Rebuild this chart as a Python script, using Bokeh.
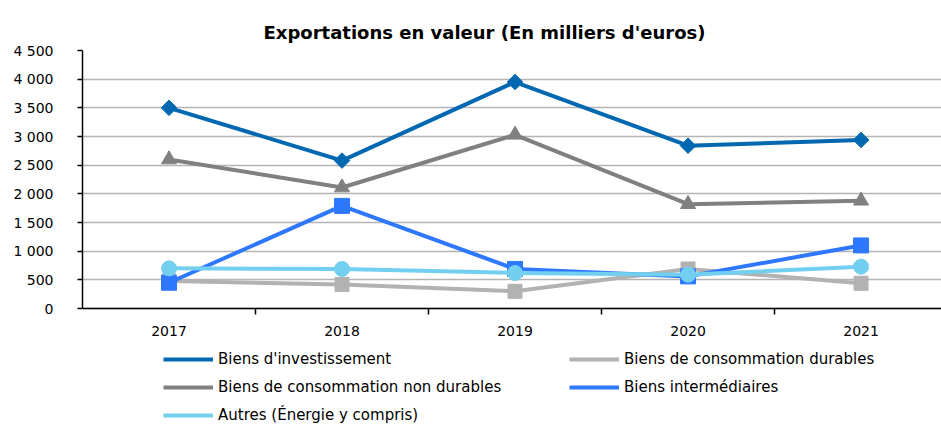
import math
from bokeh.plotting import figure
from bokeh.models import FixedTicker, Legend, LegendItem, Range1d
from bokeh.embed import file_html
from bokeh.resources import INLINE

years = ["2017", "2018", "2019", "2020", "2021"]
investissement = [3500, 2580, 3950, 2840, 2940]
conso_durables = [480, 420, 300, 690, 440]
conso_non_durables = [2600, 2110, 3030, 1820, 1880]
intermediaires = [450, 1790, 690, 560, 1100]
autres = [700, 690, 620, 590, 730]
y_ticks = [0, 500, 1000, 1500, 2000, 2500, 3000, 3500, 4000, 4500]
y_tick_labels = ["0", "500", "1 000", "1 500", "2 000", "2 500", "3 000", "3 500", "4 000", "4 500"]

xs = list(range(len(years)))
FONT = "DejaVu Sans"

# frame extends below the value axis so the legend can sit inside it
p = figure(width=941, height=426, output_backend="svg", toolbar_location=None,
           x_range=Range1d(-0.5, 4.465), y_range=Range1d(-2058, 4500),
           min_border_left=82, min_border_right=0, min_border_top=50, min_border_bottom=0)
p.outline_line_color = None
p.background_fill_color = "white"

p.title.text = "Exportations en valeur (En milliers d'euros)"
p.title.text_font = FONT
p.title.text_font_size = "18px"
p.title.text_font_style = "bold"
p.title.text_color = "black"
p.title.align = "left"
p.title.offset = 181
p.title.standoff = 16

# axes
p.xaxis.fixed_location = 0
p.xaxis.ticker = FixedTicker(ticks=xs, minor_ticks=[0.5, 1.5, 2.5, 3.5])
p.xaxis.major_label_overrides = {i: y for i, y in enumerate(years)}
p.xaxis.major_tick_out = 0
p.xaxis.major_tick_in = 0
p.xaxis.minor_tick_out = 6
p.xaxis.minor_tick_in = 0
p.xaxis.minor_tick_line_color = "black"
p.xaxis.minor_tick_line_width = 1.5
p.xaxis.axis_line_color = "black"
p.xaxis.axis_line_width = 1.5
p.xaxis.major_label_text_font = FONT
p.xaxis.major_label_text_font_size = "14px"
p.xaxis.major_label_text_color = "black"
p.xaxis.major_label_standoff = 11

p.yaxis.bounds = (0, 4500)
p.yaxis.ticker = FixedTicker(ticks=y_ticks)
p.yaxis.major_label_overrides = {t: l for t, l in zip(y_ticks, y_tick_labels)}
p.yaxis.major_tick_out = 5
p.yaxis.major_tick_in = 0
p.yaxis.minor_tick_line_color = None
p.yaxis.major_tick_line_color = "black"
p.yaxis.major_tick_line_width = 1.5
p.yaxis.axis_line_color = "black"
p.yaxis.axis_line_width = 1.5
p.yaxis.major_label_text_font = FONT
p.yaxis.major_label_text_font_size = "14px"
p.yaxis.major_label_text_color = "black"
p.yaxis.major_label_standoff = 24

p.xgrid.grid_line_color = None
p.ygrid.ticker = FixedTicker(ticks=y_ticks)
p.ygrid.grid_line_color = "#b4b4b4"
p.ygrid.grid_line_width = 1.5

series = [
    ("Biens d'investissement", investissement, "#0068b0", "square", 11, math.pi / 4),
    ("Biens de consommation durables", conso_durables, "#b2b2b2", "square", 14, 0),
    ("Biens de consommation non durables", conso_non_durables, "#808080", "triangle", 15, 0),
    ("Biens intermédiaires", intermediaires, "#2e78ff", "square", 15, 0),
    ("Autres (Énergie y compris)", autres, "#72cff0", "circle", 15, 0),
]

lines = {}
for name, vals, color, marker, size, ang in series:
    r = p.line(xs, vals, line_color=color, line_width=4)
    p.scatter(xs, vals, marker=marker, size=size, angle=ang,
              fill_color=color, line_color=color)
    lines[name] = r

def make_legend(names, loc):
    return Legend(items=[LegendItem(label=n, renderers=[lines[n]]) for n in names],
                  location=loc, orientation="vertical",
                  glyph_width=50, glyph_height=20, label_height=20, spacing=8,
                  label_standoff=5, padding=0, margin=0,
                  border_line_color=None, background_fill_alpha=0,
                  label_text_font=FONT, label_text_font_size="15px",
                  label_text_color="black")

leg1 = make_legend(["Biens d'investissement", "Biens de consommation non durables",
                    "Autres (Énergie y compris)"], (81, 1))
leg2 = make_legend(["Biens de consommation durables", "Biens intermédiaires"], (487, 29))
p.add_layout(leg1, "center")
p.add_layout(leg2, "center")

open("out.html", "w").write(file_html(p, INLINE))
